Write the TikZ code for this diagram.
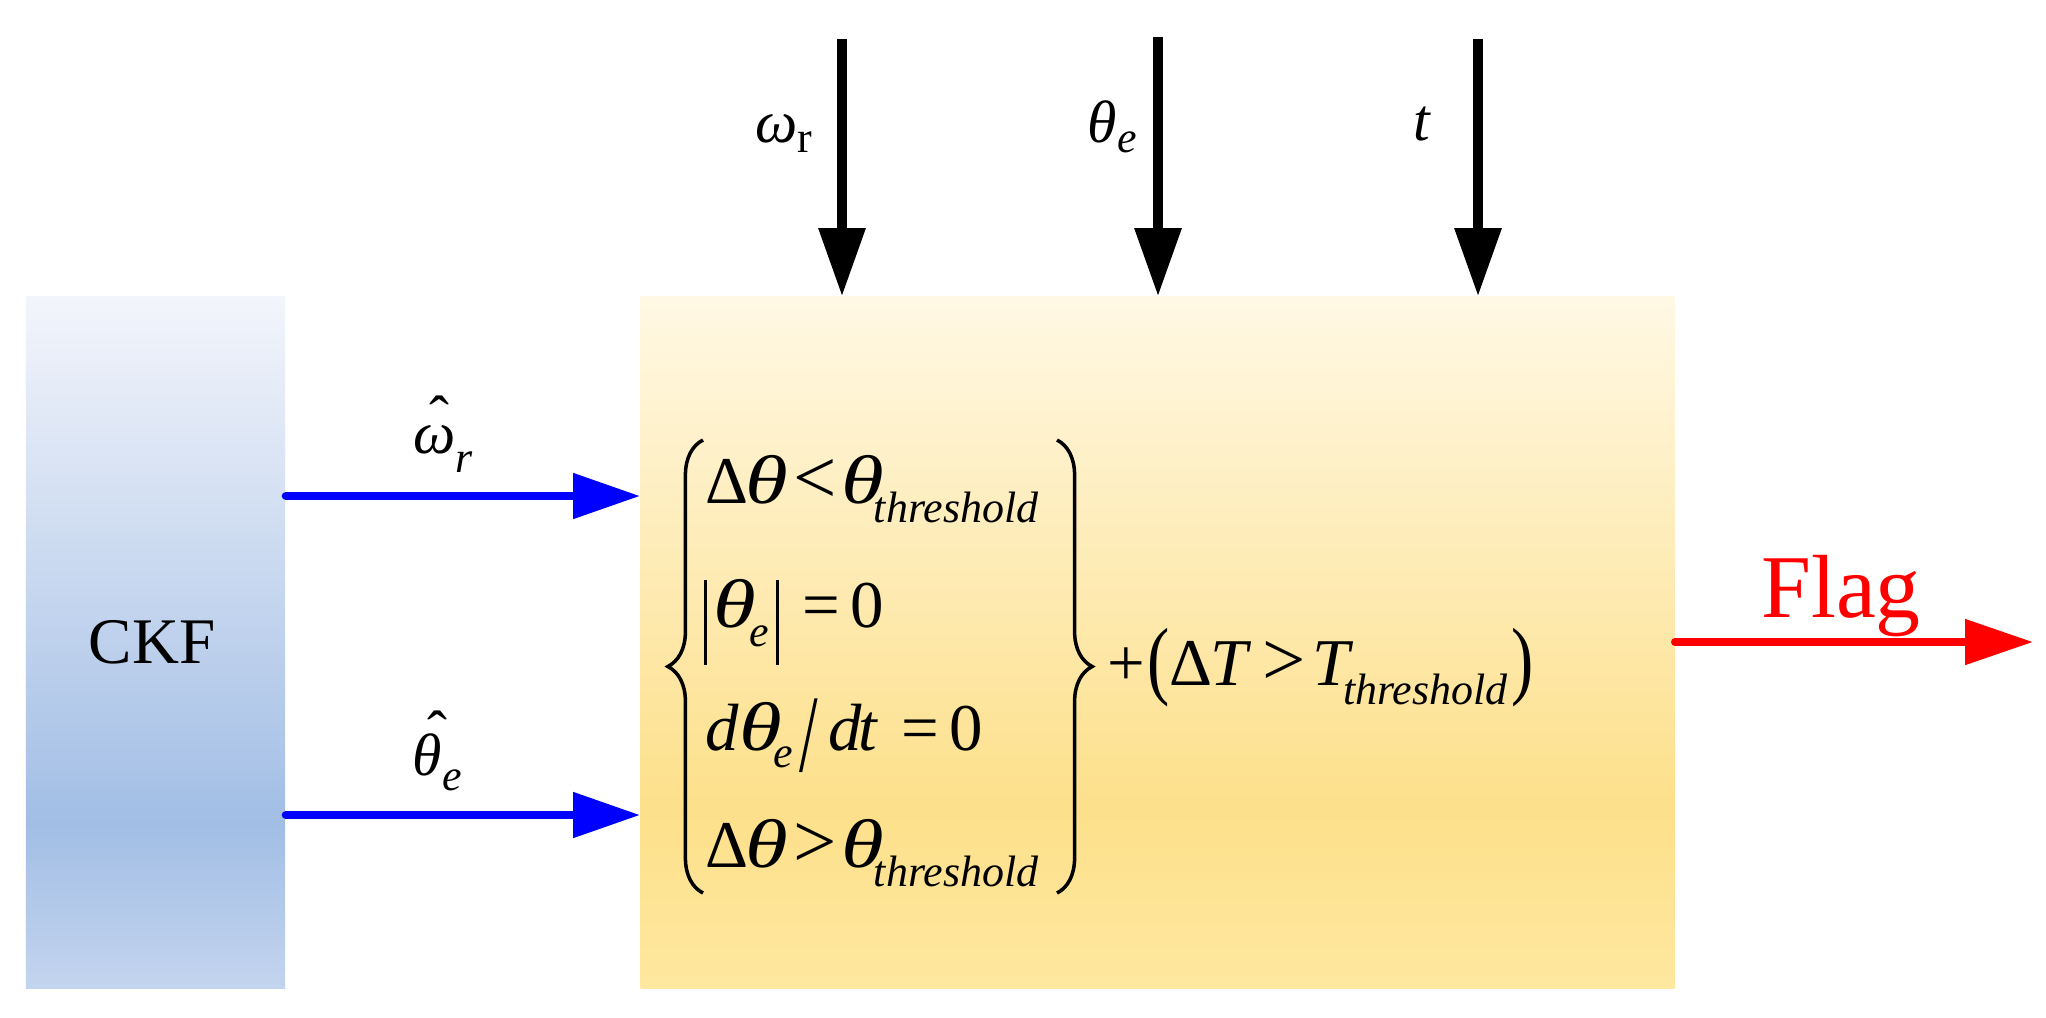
\documentclass[tikz,border=0pt]{standalone}
\usepackage{fontspec}
\setmainfont{Liberation Serif}
\usepackage{graphicx}
\usetikzlibrary{arrows.meta,decorations.pathreplacing}
\definecolor{ckftop}{HTML}{F3F5FB}
\definecolor{ckfdark}{HTML}{A2BEE5}
\definecolor{ckfbot}{HTML}{C3D4EE}
\definecolor{mtop}{HTML}{FFF8E4}
\definecolor{mdark}{HTML}{FDE08B}
\definecolor{mbot}{HTML}{FEE79F}
\definecolor{arrblue}{HTML}{0000FF}
\definecolor{arrred}{HTML}{FF0000}
\pgfdeclareverticalshading{ckfshade}{100bp}{color(0bp)=(ckfbot); color(25bp)=(ckfbot); color(37bp)=(ckfdark); color(75bp)=(ckftop); color(100bp)=(ckftop)}
\pgfdeclareverticalshading{mainshade}{100bp}{color(0bp)=(mbot); color(25bp)=(mbot); color(38bp)=(mdark); color(75bp)=(mtop); color(100bp)=(mtop)}
\newcommand\gth{\textit{θ}}
\newcommand\wth{\scalebox{1.3}[1.03]{\textit{θ}}}
\newcommand\gom{\textit{ω}}
\newcommand\thr{\kern-3pt\raisebox{-5.4pt}{\fontsize{12.5}{12}\selectfont\itshape threshold}}
\newcommand\subE[2]{\raisebox{-#1}{\fontsize{12.5}{12}\selectfont\itshape #2}}
\newcommand\vbar{\rule[-10.8pt]{0.9pt}{24.2pt}}
\newcommand\slashbig{\raisebox{-6pt}{\scalebox{1}[1.65]{/}}}
\newcommand\paren[1]{\raisebox{-1pt}{\scalebox{1}[1.3]{#1}}}
\newcommand\rel[1]{\scalebox{1.15}{#1}}
\newcommand\hatover[3]{\setbox0\hbox{#3}\rlap{\hbox to \wd0{\hss\kern#2\raisebox{#1}{ˆ}\hss}}\box0}
\begin{document}
\begin{tikzpicture}[x=0.01cm,y=-0.01cm,
  eqn/.style={inner sep=0pt, anchor=base west, font=\fontsize{19}{22}\selectfont},
  lbl/.style={inner sep=0pt, anchor=base west, font=\fontsize{17}{20}\selectfont},
  boxnode/.style={inner sep=0pt, draw=none, minimum height=6.91cm, shade},
  blk/.style={line width=2.6pt, -{Triangle[length=19.3pt,width=12.8pt]}},
  blu/.style={arrblue, line width=2.3pt, line cap=round, -{Triangle[length=19pt,width=12.5pt]}},
  redarr/.style={arrred, line width=2.3pt, line cap=round, -{Triangle[length=19.3pt,width=12.5pt]}},
  brc/.style={line width=1pt, decorate, decoration={brace, amplitude=10pt}}]
\fill[white] (0,0) rectangle (2046,1017);
\useasboundingbox (0,0) rectangle (2046,1017);
% boxes
\node[boxnode, minimum width=2.59cm, shading=ckfshade] (ckf) at (155.5,642.5) {};
\node[boxnode, minimum width=10.33cm, shading=mainshade] (main) at (1157.5,642.5) {};
\node[anchor=base, inner sep=0pt, font=\fontsize{18.5}{22}\selectfont] (ckft) at (152,663) {CKF};
% top inputs
\coordinate (in1) at (842,39);
\coordinate (in2) at (1158,37);
\coordinate (in3) at (1478,39);
\draw[blk] (in1) -- (in1 |- main.north);
\draw[blk] (in2) -- (in2 |- main.north);
\draw[blk] (in3) -- (in3 |- main.north);
\node[lbl] (lw) at (755,142) {\gom\raisebox{-3pt}{\fontsize{12.5}{12}\selectfont r}};
\node[lbl] (lt) at (1087,142) {\gth\raisebox{-3pt}{\fontsize{12.5}{12}\selectfont\itshape e}};
\node[lbl] (ltt) at (1413,140) {\textit{t}};
% blue arrows
\coordinate (b1) at (0,496);
\coordinate (b2) at (0,815);
\draw[blu] (ckf.east |- b1) -- (main.west |- b1);
\draw[blu] (ckf.east |- b2) -- (main.west |- b2);
\node[lbl] (hw) at (413,453) {\hatover{4.3pt}{2.8pt}{\gom}\raisebox{-5.4pt}{\fontsize{12.5}{12}\selectfont\itshape r}};
\node[lbl] (ht) at (412,775) {\hatover{6.5pt}{5.6pt}{\gth}\raisebox{-4.3pt}{\fontsize{12.5}{12}\selectfont\itshape e}};
% equations
\node[eqn] (r1) at (705,503) {Δ\kern-1pt\wth\kern1.5pt\rel{<}\kern1.5pt\wth\thr};
\node[eqn] (r2) at (703,627) {\vbar\kern2pt\wth\kern-2pt\subE{5.4pt}{e}\kern2pt\vbar\kern6.5pt=\kern3pt0};
\node[eqn] (r3) at (705,750) {\textit{d}\wth\kern-2.5pt\subE{5pt}{e}\kern2pt\slashbig\kern3pt\textit{d}\kern-1pt\textit{t}\kern6.5pt=\kern3pt0};
\node[eqn] (r4) at (705,867) {Δ\kern-1pt\wth\kern1.5pt\rel{>}\kern1.5pt\wth\thr};
\node[eqn] (pl) at (1107,685) {+\kern0.5pt\paren{(}Δ\kern-0.5pt\textit{T}\kern3pt\rel{>}\kern2pt\textit{T}\thr\kern1pt\paren{)}};
\draw[brc] (703,893) -- (703,440);
\draw[brc] (1057,440) -- (1057,893);
% output
\coordinate (fl) at (2033,642);
\draw[redarr] (main.east |- fl) -- (fl);
\node[anchor=base, inner sep=0pt, text=arrred, font=\fontsize{25.5}{30}\selectfont] (flag) at (1841,617) {Flag};
\end{tikzpicture}
\end{document}
